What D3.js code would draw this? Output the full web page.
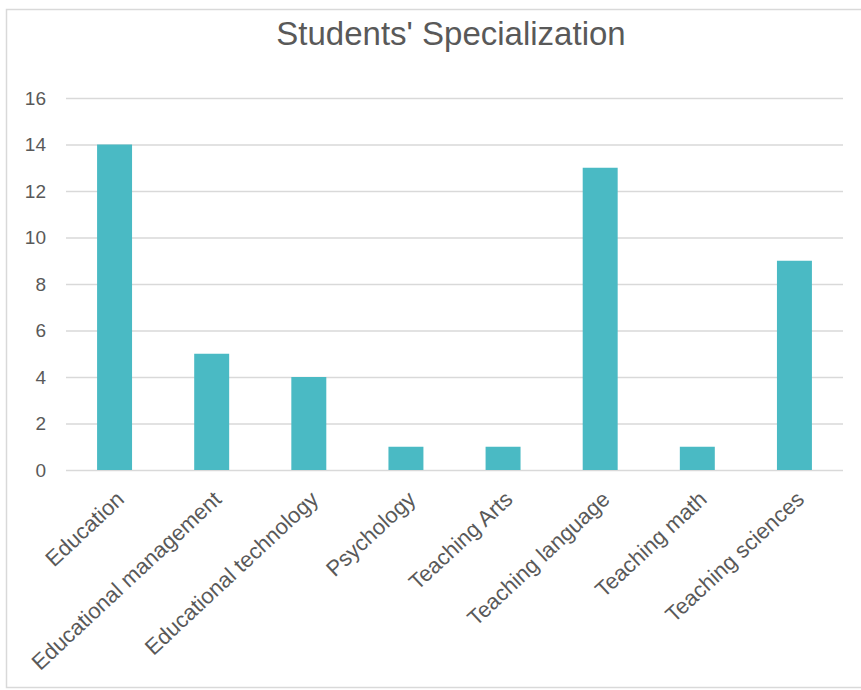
<!DOCTYPE html>
<html>
<head>
<meta charset="utf-8">
<script src="https://cdn.jsdelivr.net/npm/d3@7"></script>
<style>
  html, body { margin: 0; padding: 0; background: #fff; }
  text { font-family: "Liberation Sans", Arial, sans-serif; fill: #595959; }
</style>
</head>
<body>
<div id="chart"></div>
<script>
var categories = ["Education", "Educational management", "Educational technology", "Psychology",
  "Teaching Arts", "Teaching language", "Teaching math", "Teaching sciences"];
var counts = [14, 5, 4, 1, 1, 13, 1, 9];
var yTicks = [0, 2, 4, 6, 8, 10, 12, 14, 16];
var chartTitle = "Students' Specialization";

(function() {
  var width = 861;
  var height = 690;

  var svg = d3.select("#chart")
    .append("svg")
    .attr("width", width)
    .attr("height", height);

  // chart frame (right edge is cut off in the picture)
  svg.append("rect")
    .attr("x", 6.5)
    .attr("y", 9.5)
    .attr("width", 900)
    .attr("height", 678)
    .attr("fill", "#fff")
    .attr("stroke", "#d9d9d9")
    .attr("stroke-width", 1.5);

  var x = d3.scaleBand()
    .domain(categories)
    .range([66, 843])
    .paddingInner(0.64)
    .paddingOuter(0.32);

  var y = d3.scaleLinear()
    .domain([0, 16])
    .range([470, 98]);

  svg.append("text")
    .attr("x", 451)
    .attr("y", 45)
    .attr("text-anchor", "middle")
    .style("font-size", "33px")
    .text(chartTitle);

  // gridlines + y labels
  var yAxis = svg.append("g")
    .call(d3.axisLeft(y).tickValues(yTicks).tickSize(-(843 - 66)).tickPadding(20))
    .attr("transform", "translate(66,0)");
  yAxis.select(".domain").remove();
  yAxis.selectAll("line").attr("stroke", "#d9d9d9").attr("stroke-width", 1.4);
  yAxis.selectAll("text")
    .attr("fill", "#595959")
    .style("font-size", "19px")
    .style("font-family", "'Liberation Sans', Arial, sans-serif");

  svg.selectAll(".bar")
    .data(counts)
    .enter()
    .append("rect")
    .attr("class", "bar")
    .attr("x", function(d, i) { return x(categories[i]); })
    .attr("y", function(d) { return y(d); })
    .attr("width", x.bandwidth())
    .attr("height", function(d) { return y(0) - y(d); })
    .attr("fill", "#4abac4");

  svg.selectAll(".cat")
    .data(categories)
    .enter()
    .append("text")
    .attr("class", "cat")
    .attr("text-anchor", "end")
    .attr("transform", function(d) {
      var cx = x(d) + x.bandwidth() / 2;
      return "translate(" + (cx + 11) + ",501) rotate(-43)";
    })
    .style("font-size", "22px")
    .text(function(d) { return d; });
})();
</script>
</body>
</html>
